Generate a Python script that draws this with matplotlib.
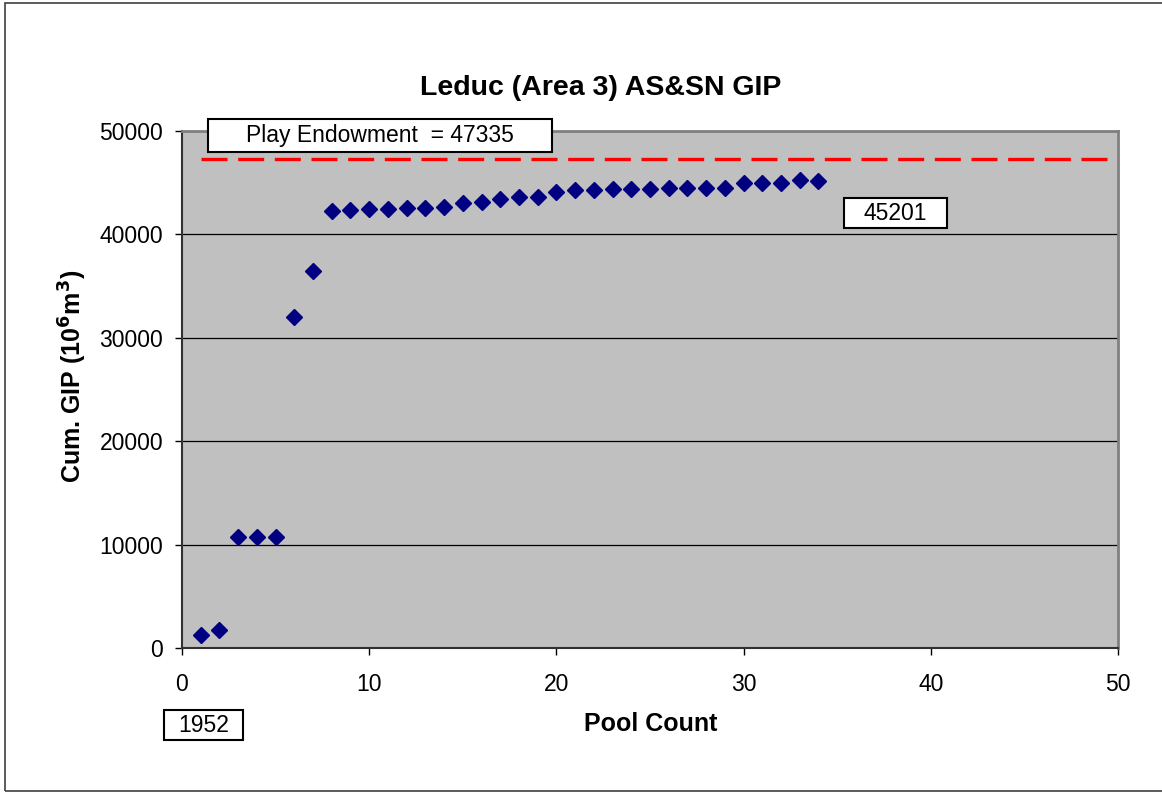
import matplotlib.pyplot as plt
from matplotlib.patches import Rectangle

plt.rcParams['font.family'] = ['Liberation Sans', 'DejaVu Sans']

# pool count vs cumulative GIP (10^6 m^3)
pool = list(range(1, 35))
cum_gip = [1300, 1700, 10700, 10750, 10750, 32000, 36500, 42280, 42350, 42470,
           42500, 42540, 42540, 42670, 42990, 43150, 43440, 43640, 43600, 44120,
           44310, 44310, 44350, 44380, 44380, 44450, 44450, 44450, 44480, 44960,
           44960, 44990, 45220, 45201]
endowment = 47335
endow_x = [1, 50]

W, H = 1162, 792
fig = plt.figure(figsize=(W / 100, H / 100), dpi=100)

# outer frame of the chart
fig.patches.append(Rectangle((5 / W, 1 - 791 / H), (W + 10) / W, (791 - 3) / H,
                             transform=fig.transFigure, fill=False,
                             edgecolor='#404040', lw=1.2))

ax = fig.add_axes([182 / W, 1 - 648 / H, (1118 - 182) / W, (648 - 131) / H])
ax.set_facecolor('#C0C0C0')

ax.plot(endow_x, [endowment, endowment], color='red', lw=2.4, dashes=(7.8, 3.2), zorder=3)
ax.plot(pool, cum_gip, ls='none', marker='D', ms=8, color='#000080', zorder=4)

ax.set_xlim(0, 50)
ax.set_ylim(0, 50000)
ax.set_xticks(range(0, 51, 10))
ax.set_yticks(range(0, 50001, 10000))
ax.grid(axis='y', color='black', lw=0.9)
ax.set_axisbelow(True)

for s in ['top', 'right']:
    ax.spines[s].set_color('#808080')
    ax.spines[s].set_linewidth(2)
for s in ['left', 'bottom']:
    ax.spines[s].set_color('#303030')
    ax.spines[s].set_linewidth(1.5)

ax.tick_params(axis='y', length=5, width=1, labelsize=16.5, pad=8.5)
ax.tick_params(axis='x', length=5, width=1, labelsize=16.5, pad=13)

fig.text(601 / W, 1 - 88 / H, 'Leduc (Area 3) AS&SN GIP', ha='center', va='center',
         fontsize=20.5, fontweight='bold')
fig.text(651 / W, 1 - 724 / H, 'Pool Count', ha='center', va='center',
         fontsize=18, fontweight='bold')
fig.text(73 / W, 1 - 376 / H, r'Cum. GIP (10$^\mathbf{6}$m$^\mathbf{3}$)', ha='center', va='center',
         rotation=90, fontsize=18, fontweight='bold')


def boxed(x0, y0, x1, y1, text):
    fig.patches.append(Rectangle((x0 / W, 1 - y1 / H), (x1 - x0) / W, (y1 - y0) / H,
                                 transform=fig.transFigure, facecolor='white',
                                 edgecolor='black', lw=1.5, zorder=10))
    fig.text((x0 + x1) / 2 / W, 1 - (y0 + y1) / 2 / H, text, ha='center', va='center',
             fontsize=16.5, zorder=11)


boxed(208, 119, 552, 152, 'Play Endowment  = %d' % endowment)
boxed(844, 198, 947, 228, '%d' % cum_gip[-1])
boxed(164, 710, 243, 740, '1952')

fig.savefig('out.png', dpi=100)
